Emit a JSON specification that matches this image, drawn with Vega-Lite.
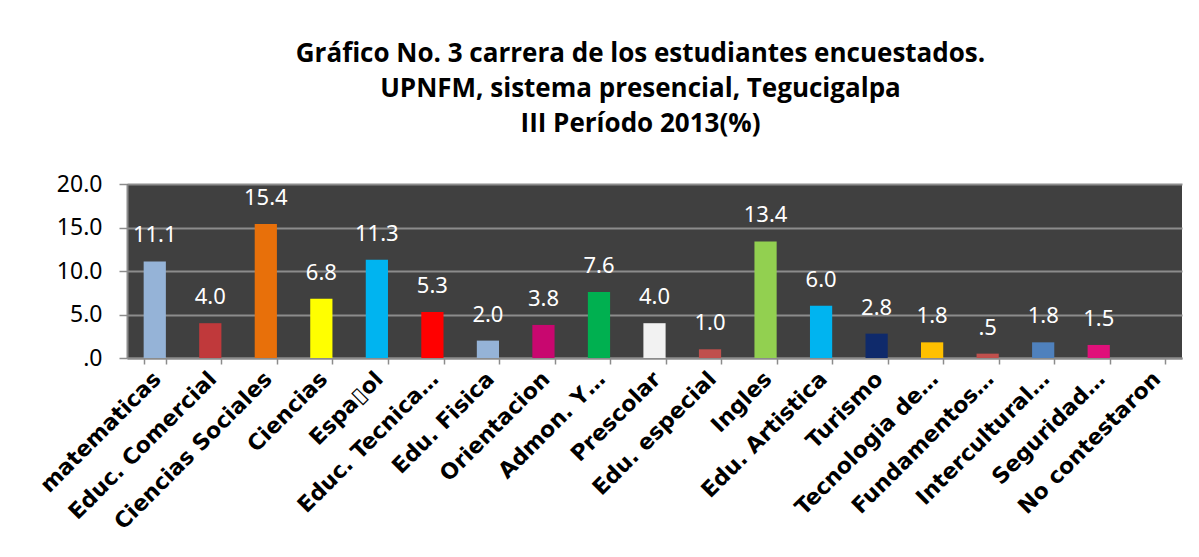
{
  "$schema": "https://vega.github.io/schema/vega-lite/v6.json",
  "width": 1055,
  "height": 174,
  "autosize": {"type": "none"},
  "padding": {"left": 127, "top": 184, "right": 17, "bottom": 199},
  "background": "white",
  "title": {
    "text": ["Gráfico No. 3 carrera de los estudiantes encuestados.", "UPNFM, sistema presencial, Tegucigalpa", "III Período 2013(%)"],
    "font": "Open Sans",
    "fontSize": 26,
    "fontWeight": "bold",
    "color": "black",
    "lineHeight": 35,
    "anchor": "middle",
    "dx": -14,
    "offset": 36
  },
  "data": {
    "values": [
      {"carrera": "matematicas", "pct": 11.1},
      {"carrera": "Educ. Comercial", "pct": 4.0},
      {"carrera": "Ciencias Sociales", "pct": 15.4},
      {"carrera": "Ciencias", "pct": 6.8},
      {"carrera": "Espa▯ol", "pct": 11.3},
      {"carrera": "Educ. Tecnica…", "pct": 5.3},
      {"carrera": "Edu. Fisica", "pct": 2.0},
      {"carrera": "Orientacion", "pct": 3.8},
      {"carrera": "Admon. Y…", "pct": 7.6},
      {"carrera": "Prescolar", "pct": 4.0},
      {"carrera": "Edu. especial", "pct": 1.0},
      {"carrera": "Ingles", "pct": 13.4},
      {"carrera": "Edu. Artistica", "pct": 6.0},
      {"carrera": "Turismo", "pct": 2.8},
      {"carrera": "Tecnologia de…", "pct": 1.8},
      {"carrera": "Fundamentos…", "pct": 0.5},
      {"carrera": "Intercultural…", "pct": 1.8},
      {"carrera": "Seguridad…", "pct": 1.5},
      {"carrera": "No contestaron", "pct": null}
    ]
  },
  "transform": [
    {"calculate": "datum.pct < 1 ? replace(format(datum.pct, '.1f'), '0.', '.') : format(datum.pct, '.1f')", "as": "label"}
  ],
  "encoding": {
    "x": {
      "field": "carrera",
      "type": "nominal",
      "scale": {
        "domain": ["matematicas", "Educ. Comercial", "Ciencias Sociales", "Ciencias", "Espa▯ol", "Educ. Tecnica…", "Edu. Fisica", "Orientacion", "Admon. Y…", "Prescolar", "Edu. especial", "Ingles", "Edu. Artistica", "Turismo", "Tecnologia de…", "Fundamentos…", "Intercultural…", "Seguridad…", "No contestaron"],
        "paddingInner": 0.6,
        "paddingOuter": 0.3
      },
      "axis": {
        "title": null,
        "labelAngle": -45,
        "labelFont": "DejaVu Sans",
        "labelFontWeight": "bold",
        "labelFontSize": 22,
        "labelColor": "black",
        "labelPadding": 4,
        "labelOffset": -5,
        "labelLimit": 400,
        "tickBand": "extent",
        "tickColor": "#8c8c8c",
        "tickSize": 6,
        "tickWidth": 1.5,
        "domainColor": "#8c8c8c",
        "domainWidth": 2
      }
    },
    "y": {
      "field": "pct",
      "type": "quantitative",
      "scale": {"domain": [0, 20], "nice": false},
      "axis": {
        "title": null,
        "values": [0, 5, 10, 15, 20],
        "labelExpr": "datum.value == 0 ? '.0' : format(datum.value, '.1f')",
        "labelFont": "Noto Sans",
        "labelFontSize": 23,
        "labelColor": "black",
        "labelPadding": 17,
        "tickColor": "#8c8c8c",
        "tickSize": 8,
        "tickWidth": 1.5,
        "domainColor": "#8c8c8c",
        "domainWidth": 2,
        "gridColor": "#8c8c8c",
        "gridWidth": 2,
        "gridOpacity": 1
      }
    }
  },
  "layer": [
    {
      "mark": {"type": "bar"},
      "encoding": {
        "color": {
          "field": "carrera",
          "type": "nominal",
          "legend": null,
          "scale": {
            "domain": ["matematicas", "Educ. Comercial", "Ciencias Sociales", "Ciencias", "Espa▯ol", "Educ. Tecnica…", "Edu. Fisica", "Orientacion", "Admon. Y…", "Prescolar", "Edu. especial", "Ingles", "Edu. Artistica", "Turismo", "Tecnologia de…", "Fundamentos…", "Intercultural…", "Seguridad…", "No contestaron"],
            "range": ["#95b3d7", "#c0393b", "#e8700a", "#ffff00", "#00b4f0", "#ff0000", "#95b3d7", "#c8076f", "#00b050", "#f2f2f2", "#c0504d", "#92d050", "#00b4f0", "#0f2a6b", "#ffc000", "#c0504d", "#4f81bd", "#e0107a", "#808080"]
          }
        }
      }
    },
    {
      "mark": {"type": "text", "font": "Noto Sans", "fontSize": 22, "color": "white", "baseline": "alphabetic", "dy": -19},
      "encoding": {"text": {"field": "label"}}
    }
  ],
  "config": {
    "view": {"fill": "#404040", "stroke": null},
    "axis": {"labelFlush": false}
  }
}
